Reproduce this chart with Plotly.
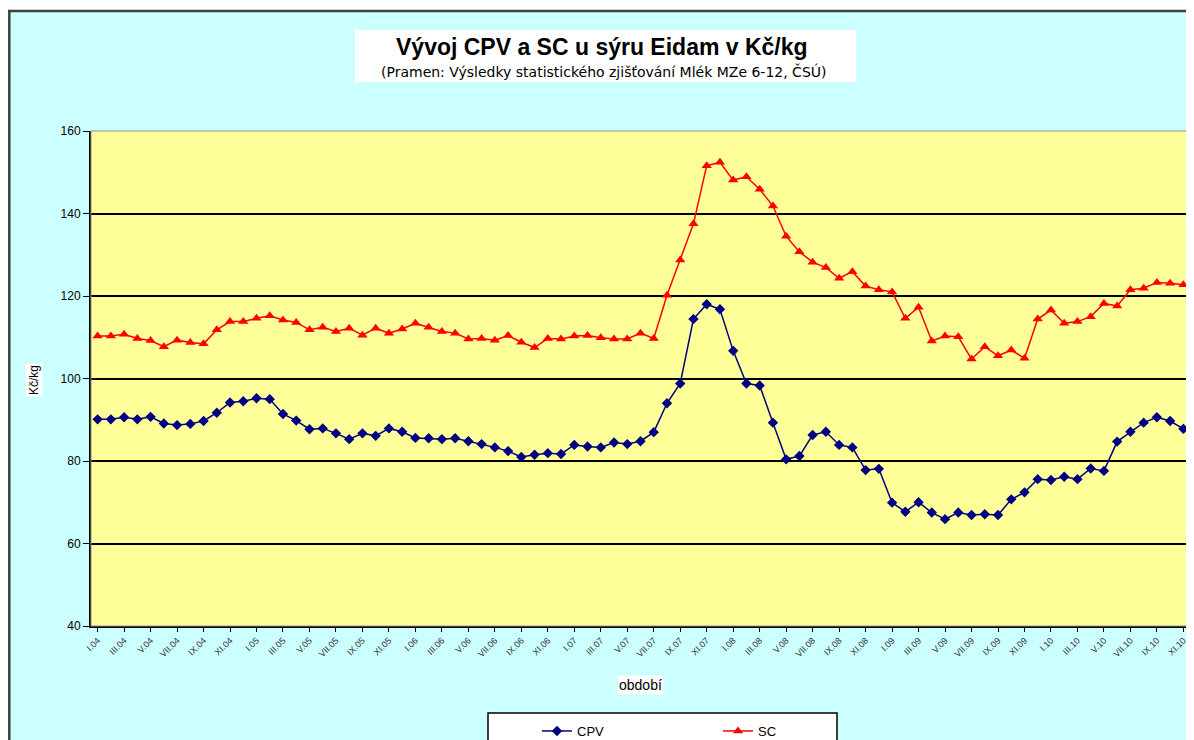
import plotly.graph_objects as go

# monthly periods I.04 .. XI.10
roman = ["I", "II", "III", "IV", "V", "VI", "VII", "VIII", "IX", "X", "XI", "XII"]
years = ["04", "05", "06", "07", "08", "09", "10"]
periods = [f"{m}.{y}" for y in years for m in roman][:83]
tick_periods = periods[::2]

cpv = [
    90.1, 90.1, 90.6, 90.1, 90.7, 89.1, 88.7, 89.0, 89.7, 91.7, 94.2, 94.5,
    95.2, 95.0, 91.4, 89.8, 87.7, 87.9, 86.7, 85.3, 86.7, 86.1, 87.9, 87.1,
    85.6, 85.5, 85.3, 85.5, 84.8, 84.1, 83.3, 82.4, 81.0, 81.5, 81.9, 81.7,
    83.9, 83.5, 83.3, 84.5, 84.1, 84.8, 87.0, 94.0, 98.8, 114.4, 118.0, 116.8,
    106.7, 98.8, 98.3, 89.3, 80.4, 81.2, 86.3, 87.1, 83.9, 83.3, 77.8, 78.1,
    69.9, 67.7, 70.0, 67.5, 65.9, 67.5, 66.9, 67.1, 66.9, 70.7, 72.4, 75.6,
    75.4, 76.2, 75.6, 78.2, 77.6, 84.7, 87.1, 89.3, 90.6, 89.7, 87.8,
]
sc = [
    110.3, 110.3, 110.7, 109.7, 109.2, 107.7, 109.3, 108.7, 108.4, 111.8, 113.8, 113.8,
    114.6, 115.2, 114.2, 113.6, 111.8, 112.4, 111.4, 112.2, 110.5, 112.2, 111.0, 112.0,
    113.4, 112.4, 111.4, 111.0, 109.6, 109.7, 109.3, 110.4, 108.8, 107.5, 109.7, 109.6,
    110.3, 110.4, 109.9, 109.6, 109.6, 111.0, 109.7, 120.2, 128.7, 137.5, 151.6, 152.4,
    148.1, 148.9, 145.9, 141.8, 134.5, 130.7, 128.2, 126.9, 124.3, 125.9, 122.4, 121.5,
    121.0, 114.6, 117.3, 109.1, 110.3, 110.1, 104.7, 107.7, 105.5, 106.9, 104.9, 114.4,
    116.6, 113.4, 113.8, 115.0, 118.2, 117.6, 121.5, 121.9, 123.3, 123.1, 122.7,
]

FONT = "Liberation Sans, Arial, sans-serif"

# page has an 8px body margin; work in page pixels
OFF = 8
W, H = 1194 - OFF, 740 - OFF
# plot area in page pixels
L, R, T, B = 91, 1190, 131, 626


def px(x):
    return (x - L) / (R - L)


def py(y):
    return (B - y) / (B - T)


fig = go.Figure()
fig.add_trace(go.Scatter(
    x=periods, y=cpv, name="CPV", mode="lines+markers",
    line=dict(color="#000080", width=1.5),
    marker=dict(symbol="diamond", size=8, color="#000080"),
))
fig.add_trace(go.Scatter(
    x=periods, y=sc, name="SC", mode="lines+markers",
    line=dict(color="#FF0000", width=1.5),
    marker=dict(symbol="triangle-up", size=9, color="#FF0000"),
))

shapes = [
    # white strip above the chart frame
    dict(type="rect", xref="paper", yref="paper", x0=px(0), x1=px(1200),
         y0=py(0), y1=py(10), fillcolor="white", line_width=0, layer="below"),
    # chart frame
    dict(type="line", xref="paper", yref="paper", x0=px(8), x1=px(1200),
         y0=py(11), y1=py(11), line=dict(color="#404040", width=2.5)),
    dict(type="line", xref="paper", yref="paper", x0=px(9.3), x1=px(9.3),
         y0=py(10), y1=py(750), line=dict(color="#404040", width=2.5)),
    # plot area border
    dict(type="rect", xref="paper", yref="paper", x0=0, x1=1, y0=0, y1=1,
         line=dict(color="#909090", width=1)),
    # title box
    dict(type="rect", xref="paper", yref="paper", x0=px(355), x1=px(856),
         y0=py(30), y1=py(82), fillcolor="white", line_width=0),
    # legend box
    dict(type="rect", xref="paper", yref="paper", x0=px(488), x1=px(837),
         y0=py(713), y1=py(760), fillcolor="white",
         line=dict(color="black", width=1.5)),
]

annotations = [
    dict(text="<b>Vývoj CPV a SC u sýru Eidam v Kč/kg</b>", xref="paper", yref="paper",
         x=px(602), y=py(47), xanchor="center", yanchor="middle", showarrow=False,
         font=dict(size=23, color="black", family=FONT)),
    dict(text="(Pramen: Výsledky statistického zjišťování Mlék MZe 6-12, ČSÚ)",
         xref="paper", yref="paper", x=px(604), y=py(72), xanchor="center",
         yanchor="middle", showarrow=False,
         font=dict(size=14, color="black", family="DejaVu Sans, sans-serif")),
    dict(text="Kč/kg", xref="paper", yref="paper", x=px(34), y=py(380), textangle=-90,
         xanchor="center", yanchor="middle", showarrow=False, bgcolor="white", borderpad=1,
         font=dict(size=12, color="black", family=FONT)),
    dict(text="období", xref="paper", yref="paper", x=px(640), y=py(685),
         xanchor="center", yanchor="middle", showarrow=False, bgcolor="white", borderpad=1,
         font=dict(size=14, color="black", family=FONT)),
]

fig.update_layout(
    width=W, height=H,
    margin=dict(l=L - OFF, r=1194 - R, t=T - OFF, b=740 - B, autoexpand=False),
    paper_bgcolor="#CCFFFF",
    plot_bgcolor="#FFFF99",
    font=dict(family=FONT, color="black"),
    showlegend=True,
    legend=dict(
        orientation="h", x=px(537), y=py(716), xanchor="left", yanchor="top",
        bgcolor="rgba(0,0,0,0)", borderwidth=0,
        font=dict(size=13, family=FONT), entrywidth=136, entrywidthmode="pixels",
    ),
    shapes=shapes,
    annotations=annotations,
    xaxis=dict(
        type="category", categoryorder="array", categoryarray=periods,
        tickmode="array", tickvals=tick_periods, ticktext=tick_periods,
        tickangle=-45, tickfont=dict(size=9, color="#333333"),
        ticks="outside", ticklen=4, tickcolor="black",
        showline=True, linecolor="black", linewidth=1.5,
        showgrid=False, zeroline=False, range=[-0.5, len(periods) - 0.5],
    ),
    yaxis=dict(
        range=[40, 160], dtick=20, tick0=40,
        ticks="outside", ticklen=6, tickcolor="black",
        tickfont=dict(size=12, color="black"),
        showline=True, linecolor="black", linewidth=2,
        showgrid=True, gridcolor="black", gridwidth=1.5, zeroline=False,
    ),
)

fig.write_html("out.html")
